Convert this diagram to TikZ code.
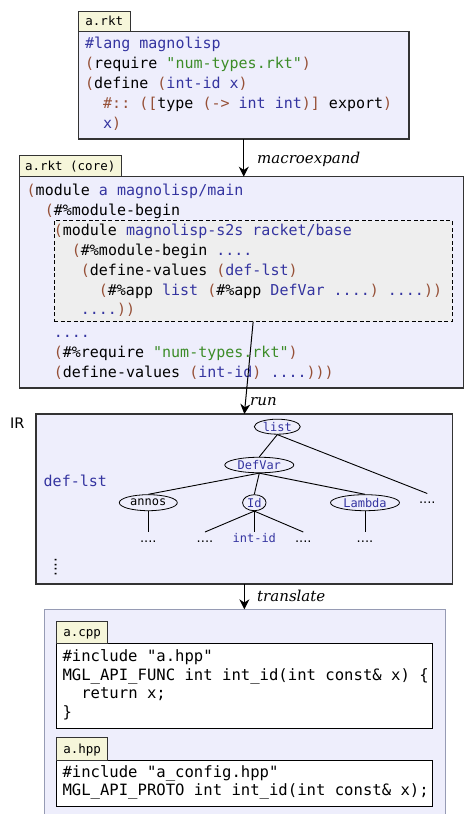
\documentclass[tikz,border=0pt]{standalone}
\usepackage{fontspec}
\setmainfont{DejaVu Serif}
\setsansfont{DejaVu Sans}
\setmonofont{DejaVu Sans Mono}
\usetikzlibrary{arrows.meta,shapes.geometric}
\definecolor{lav}{RGB}{238,238,252}
\definecolor{tabc}{RGB}{246,246,218}
\definecolor{kwc}{RGB}{52,52,160}
\definecolor{pac}{RGB}{150,80,55}
\definecolor{stc}{RGB}{60,140,40}
\definecolor{gbox}{RGB}{238,238,238}
\definecolor{obord}{RGB}{150,155,180}
\newcommand\kwd[1]{\textcolor{kwc}{#1}}
\newcommand\prn[1]{\textcolor{pac}{#1}}
\newcommand\strg[1]{\textcolor{stc}{#1}}
\begin{document}
\begin{tikzpicture}[x=1pt,y=-1pt,
  box/.style={draw=black!80, line width=1.2pt, fill=lav, anchor=north west, inner sep=0pt, outer sep=0pt},
  tabbox/.style={draw=black!80, line width=1pt, fill=tabc, anchor=north west, inner sep=0pt, outer sep=0pt},
  codebox/.style={draw=black, line width=1pt, fill=white, anchor=north west, inner sep=0pt, outer sep=0pt},
  tabtxt/.style={font=\fontsize{12.5}{14}\selectfont\ttfamily, anchor=base, inner sep=0pt},
  code/.style={font=\fontsize{15}{18}\selectfont\ttfamily, anchor=base west, inner sep=0pt},
  ccode/.style={font=\fontsize{15.6}{18}\selectfont\ttfamily, anchor=base west, inner sep=0pt},
  lbl/.style={font=\fontsize{15}{18}\selectfont\itshape, anchor=base west, inner sep=0pt},
  arr/.style={-{Stealth[length=10pt,width=10pt]}, line width=1pt},
  tn/.style={ellipse, draw, line width=0.8pt, inner sep=0pt, fill=lav, font=\fontsize{12}{14}\selectfont\ttfamily},
  dotn/.style={font=\fontsize{13}{14}\selectfont\sffamily, inner sep=0pt, text height=10pt, text depth=0pt, anchor=north},
  bmono/.style={font=\fontsize{12}{14}\selectfont\ttfamily, inner sep=0pt, text height=10pt, text depth=0pt, anchor=north},
  tl/.style={line width=0.9pt}
]
\useasboundingbox (0,0) rectangle (465,814);

% a.rkt
\node[box, minimum width=330.5, minimum height=107.3] (arkt) at (78.5,31.7) {};
\node[tabbox, minimum width=51.5, minimum height=20.7] (arkttab) at (78.5,11) {};
\node[tabtxt] (arkttxt) at (104.25,25.5) {a.rkt};
\node[code] (a1) at (85,48.5) {\kwd{\#lang magnolisp}};
\node[code] (a2) at (85,68.5) {\prn{(}require \strg{"num-types.rkt"}\prn{)}};
\node[code] (a3) at (85,88.5) {\prn{(}define \prn{(}\kwd{int-id x}\prn{)}};
\node[code] (a4) at (103,108.5) {\prn{\#:: ([}type \prn{(->} \kwd{int int}\prn{)]} export\prn{)}};
\node[code] (a5) at (103,128.5) {\kwd{x}\prn{)}};

% core
\node[box, minimum width=444.2, minimum height=211.3] (core) at (19.3,176.7) {};
\node[tabbox, minimum width=101.7, minimum height=21.7] (coretab) at (19.3,155) {};
\node[tabtxt] (coretxt) at (70.2,170.7) {a.rkt (core)};
\node[draw=black, dash pattern=on 4pt off 2.5pt, line width=0.9pt, fill=gbox, anchor=north west, inner sep=0pt, outer sep=0pt,
      minimum width=397.7, minimum height=101] (inner) at (54.3,220.7) {};
\node[code] (c1) at (26.5,195) {\prn{(}module \kwd{a magnolisp/main}};
\node[code] (c2) at (44.6,215) {\prn{(}\#\%module-begin};
\node[code] (c3) at (53.6,235) {\prn{(}module \kwd{magnolisp-s2s racket/base}};
\node[code] (c4) at (71.7,255) {\prn{(}\#\%module-begin \kwd{....}};
\node[code] (c5) at (80.7,275) {\prn{(}define-values \prn{(}\kwd{def-lst}\prn{)}};
\node[code] (c6) at (98.7,295) {\prn{(}\#\%app \kwd{list} \prn{(}\#\%app \kwd{DefVar ....}\prn{)} \kwd{....}\prn{))}};
\node[code] (c7) at (80.7,314) {\kwd{....}\prn{))}};
\node[code] (c8) at (53.6,337) {\kwd{....}};
\node[code] (c9) at (53.6,357.5) {\prn{(}\#\%require \strg{"num-types.rkt"}\prn{)}};
\node[code] (c10) at (53.6,377.5) {\prn{(}define-values \prn{(}\kwd{int-id}\prn{)} \kwd{....}\prn{)))}};

% IR
\node[box, minimum width=416.7, minimum height=170] (ir) at (36,414) {};
\node[font=\fontsize{14.5}{16}\selectfont\sffamily, anchor=base west, inner sep=0pt] (irl) at (10,428.3) {IR};
\node[code] (deflst) at (43.5,486.7) {\kwd{def-lst}};
\node[font=\fontsize{15}{16}\selectfont\sffamily, rotate=90, inner sep=0pt, text height=2pt, text depth=0pt] (vd) at (55.5,567) {....};

\node[tn, minimum width=46, minimum height=15] (list) at (277.3,426.7) {\kwd{list}};
\node[tn, minimum width=69, minimum height=15.5] (defvar) at (259.3,465) {\kwd{DefVar}};
\node[tn, minimum width=58, minimum height=16] (annos) at (148.3,502.7) {annos};
\node[tn, minimum width=23.5, minimum height=16] (id) at (254.3,502.7) {\kwd{Id}};
\node[tn, minimum width=69, minimum height=16] (lambda) at (365,502.7) {\kwd{Lambda}};
\node[dotn] (dr) at (427.3,493.5) {....};
\node[dotn] (b1) at (148.3,532) {....};
\node[dotn] (b2) at (205,532) {....};
\node[bmono] (b3) at (254.3,532) {\kwd{int-id}};
\node[dotn] (b4) at (303.3,532) {....};
\node[dotn] (b5) at (365,532) {....};

\draw[tl] (list.south) -- (defvar.north);
\draw[tl] (list.south) -- (dr.north);
\draw[tl] (defvar.south) -- (annos.north);
\draw[tl] (defvar.south) -- (id.north);
\draw[tl] (defvar.south) -- (lambda.north);
\draw[tl] (annos.south) -- (b1.north);
\draw[tl] (id.south) -- (b2.north);
\draw[tl] (id.south) -- (b3.north);
\draw[tl] (id.south) -- (b4.north);
\draw[tl] (lambda.south) -- (b5.north);

% output
\node[draw=obord, line width=1pt, fill=lav, anchor=north west, inner sep=0pt, outer sep=0pt,
      minimum width=401, minimum height=210] (outer) at (44,609.3) {};
\node[codebox, minimum width=376, minimum height=85] (cpp) at (56.7,643.3) {};
\node[tabbox, minimum width=51, minimum height=21.6] (cpptab) at (56.7,621.7) {};
\node[tabtxt] (cpptxt) at (82.2,636.7) {a.cpp};
\node[ccode] (p1) at (62.3,661.5) {\#include "a.hpp"};
\node[ccode] (p2) at (62.3,680) {MGL\_API\_FUNC int int\_id(int const\& x) \{};
\node[ccode] (p3) at (81.1,698.5) {return x;};
\node[ccode] (p4) at (62.3,717) {\}};
\node[codebox, minimum width=376, minimum height=46.7] (hpp) at (56.7,760) {};
\node[tabbox, minimum width=51, minimum height=22.3] (hpptab) at (56.7,737.7) {};
\node[tabtxt] (hpptxt) at (82.2,753.3) {a.hpp};
\node[ccode] (h1) at (62.3,777) {\#include "a\_config.hpp"};
\node[ccode] (h2) at (62.3,795.5) {MGL\_API\_PROTO int int\_id(int const\& x);};

% arrows
\draw[arr] (arkt.south) -- (arkt.south |- core.north);
\draw[arr] (inner.south) -- (ir.north);
\draw[arr] (ir.south) -- (ir.south |- outer.north);
\node[lbl] (lmacro) at (257,163.3) {macroexpand};
\node[lbl] (lrun) at (250,405) {run};
\node[lbl] (ltr) at (257,601.7) {translate};
\end{tikzpicture}
\end{document}
